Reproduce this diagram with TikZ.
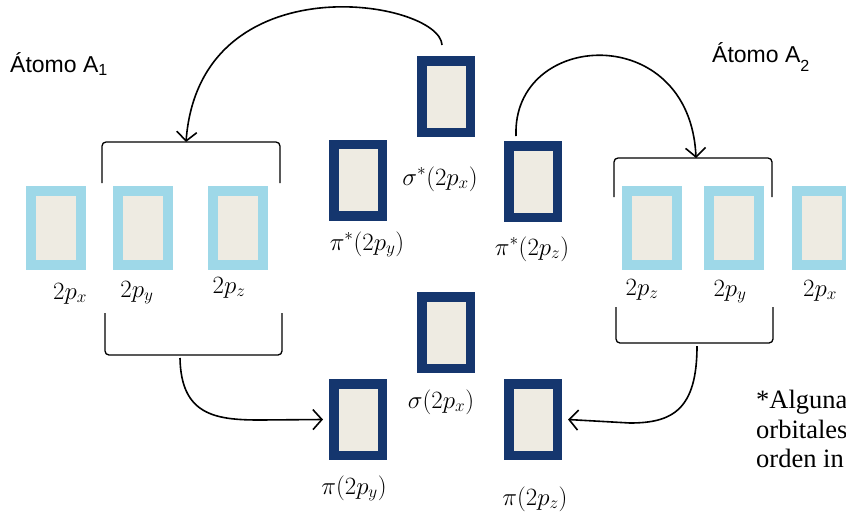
\documentclass[tikz,border=0pt]{standalone}
\usepackage{fontspec}
\setmainfont{Liberation Serif}
\newfontfamily\labelsans{Liberation Sans}
\usetikzlibrary{arrows.meta}

\definecolor{aoedge}{HTML}{9ED8E8}
\definecolor{moedge}{HTML}{15366E}
\definecolor{boxfill}{HTML}{EEEBE2}

\tikzset{
  ao/.style={draw=aoedge, line width=10pt, fill=boxfill,
    minimum width=50pt, minimum height=74pt, inner sep=0pt},
  mo/.style={draw=moedge, line width=9.5pt, fill=boxfill,
    minimum width=48.5pt, minimum height=71.5pt, inner sep=0pt},
  orblabel/.style={anchor=base, inner sep=0pt, font=\fontsize{24.5}{28}\selectfont},
  atomlabel/.style={anchor=base west, inner sep=0pt, font=\labelsans\fontsize{23}{27}\selectfont},
  notetext/.style={anchor=base west, inner sep=0pt, font=\fontsize{26.5}{30}\selectfont},
  bracket/.style={draw=black, line width=1.3pt, rounded corners=4pt},
  flow/.style={draw=black, line width=1.6pt,
    -{Straight Barb[length=9pt,width=20pt,line width=1.6pt]}}
}

\begin{document}
\begin{tikzpicture}[x=1pt,y=-1pt]
\path[use as bounding box] (0,0) rectangle (846,512);
\clip (0,0) rectangle (846,512);

% atom labels
\node[atomlabel] (atom1) at (10,72) {Átomo A\textsubscript{1}};
\node[atomlabel] (atom2) at (712,62) {Átomo A\raisebox{-0.45ex}{\textsubscript{2}}};

% atomic 2p orbitals of atom A1
\node[ao] (a1x) at (56,228) {};
\node[ao] (a1y) at (143,228) {};
\node[ao] (a1z) at (238,228) {};
\node[orblabel] (l1x) at (70,299) {$2p_x$};
\node[orblabel] (l1y) at (137,297) {$2p_y$};
\node[orblabel] (l1z) at (229,293) {$2p_z$};

% atomic 2p orbitals of atom A2
\node[ao] (a2z) at (652,228) {};
\node[ao] (a2y) at (734,228) {};
\node[ao] (a2x) at (822,228) {};
\node[orblabel] (l2z) at (642,295) {$2p_z$};
\node[orblabel] (l2y) at (730,296) {$2p_y$};
\node[orblabel] (l2x) at (820,296) {$2p_x$};

% antibonding molecular orbitals
\node[mo] (sxs) at (446,96.5) {};
\node[mo] (pys) at (358,180) {};
\node[mo] (pzs) at (533,181.5) {};
\node[orblabel] (lsxs) at (440,185) {$\sigma^{*}(2p_x)$};
\node[orblabel] (lpys) at (367,250) {$\pi^{*}(2p_y)$};
\node[orblabel] (lpzs) at (532,255) {$\pi^{*}(2p_z)$};

% bonding molecular orbitals
\node[mo] (sx) at (446,332.5) {};
\node[mo] (py) at (358,419.5) {};
\node[mo] (pz) at (533,419.5) {};
\node[orblabel] (lsx) at (441,408) {$\sigma(2p_x)$};
\node[orblabel] (lpy) at (354,494) {$\pi(2p_y)$};
\node[orblabel] (lpz) at (535,505) {$\pi(2p_z)$};

% brackets grouping the p_y / p_z orbitals
\draw[bracket] (102,183) -- (102,142) -- (280,142) -- (280,183);
\draw[bracket] (105,313) -- (105,355) -- (282,355) -- (282,313);
\draw[bracket] (614,197) -- (614,158) -- (772,158) -- (772,197);
\draw[bracket] (616,307) -- (616,343) -- (773,343) -- (773,307);
\coordinate (bTL) at (186,142);
\coordinate (bBL) at (180,358);
\coordinate (bTR) at (696,158);
\coordinate (bBR) at (697,346);

% connectors
\draw[flow] ([shift={(-4,-11)}]sxs.north) .. controls (440,0) and (200,-40) .. (bTL);
\draw[flow] ([shift={(-17,-5)}]pzs.north) .. controls (512,30) and (690,20) .. (bTR);
\draw[flow] (bBL) .. controls (181,415) and (215,420) .. (260,420) -- ([shift={(-6,0)}]py.west);
\draw[flow] (bBR) .. controls (697,410) and (672,423) .. (630,423) -- ([shift={(6,0)}]pz.east);

% footnote (runs past the right edge)
\node[notetext] (n1) at (756,408) {*Algunas};
\node[notetext] (n2) at (756,438) {orbitales};
\node[notetext] (n3) at (756,467) {orden in};
\end{tikzpicture}
\end{document}
